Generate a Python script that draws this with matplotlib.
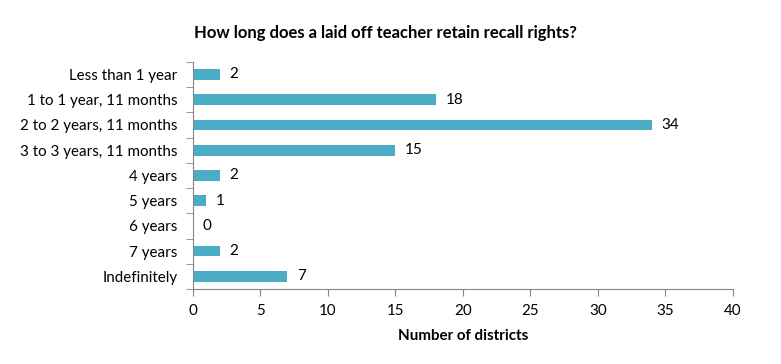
import matplotlib.pyplot as plt
import numpy as np

categories = [
    "Less than 1 year",
    "1 to 1 year, 11 months",
    "2 to 2 years, 11 months",
    "3 to 3 years, 11 months",
    "4 years",
    "5 years",
    "6 years",
    "7 years",
    "Indefinitely",
]
districts = [2, 18, 34, 15, 2, 1, 0, 2, 7]
x_ticks = [0, 5, 10, 15, 20, 25, 30, 35, 40]

BAR_COLOR = "#4BACC6"
AXIS_COLOR = "#868686"

plt.rcParams["font.family"] = ["Lato", "DejaVu Sans"]

figure = plt.figure(figsize=(7.81, 3.64), dpi=100)
axis = figure.add_axes([0.247, 0.206, 0.6915, 0.624])

positions = np.arange(len(categories))
axis.barh(positions, districts, height=0.42, color=BAR_COLOR)

for position, value in zip(positions, districts):
    axis.text(
        value + 0.7,
        position,
        str(value),
        ha="left",
        va="center",
        fontsize=11,
    )

axis.set_ylim(len(categories) - 0.5, -0.5)
axis.set_xlim(0, 40)

axis.set_yticks(positions)
axis.set_yticklabels(categories, fontsize=10.9)
axis.set_yticks(np.arange(len(categories) + 1) - 0.5, minor=True)
axis.tick_params(axis="y", which="major", length=0, pad=11)
axis.tick_params(axis="y", which="minor", length=5, color=AXIS_COLOR, direction="out")

axis.set_xticks(x_ticks)
axis.tick_params(axis="x", labelsize=10.9, length=5, color=AXIS_COLOR, pad=6)

for side in ("top", "right"):
    axis.spines[side].set_visible(False)
for side in ("left", "bottom"):
    axis.spines[side].set_color(AXIS_COLOR)

axis.set_xlabel("Number of districts", fontsize=10.9, fontweight="bold", labelpad=8)
figure.text(
    0.493,
    0.91,
    "How long does a laid off teacher retain recall rights?",
    ha="center",
    va="center",
    fontsize=12,
    fontweight="bold",
)

figure.savefig("out.png", dpi=100)
